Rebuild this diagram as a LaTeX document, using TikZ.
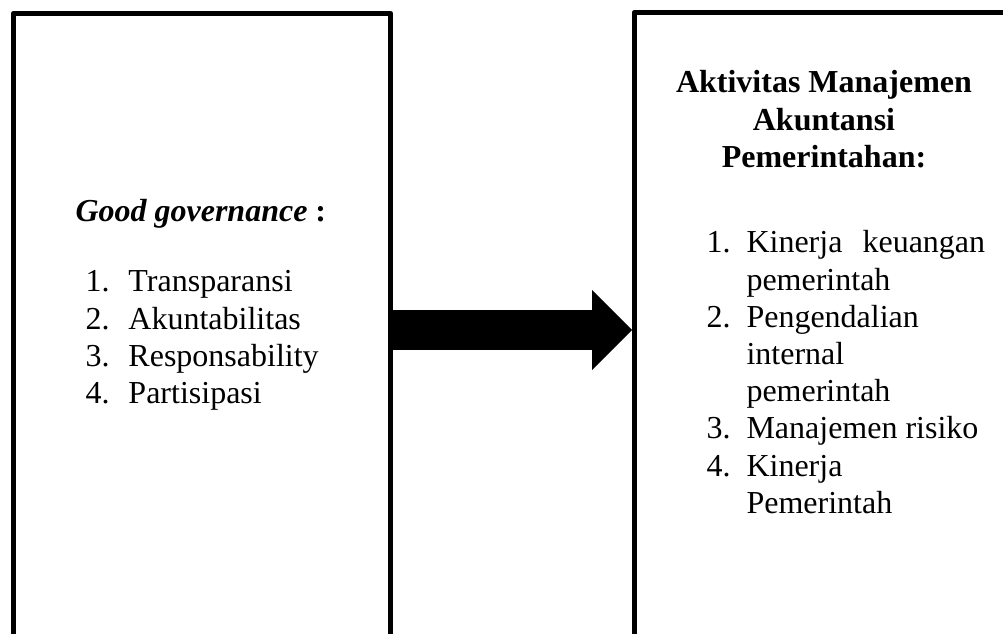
\documentclass[tikz,border=0pt]{standalone}
\usepackage{fontspec}
\setmainfont{Liberation Serif}
\usetikzlibrary{arrows.meta}

\tikzset{every picture/.style={line width=0.75pt}}
\tikzset{
  framebox/.style={draw, rectangle, line width=3.4pt, line join=round, inner sep=0pt},
  fatarrow/.style={line width=30pt, -{Triangle[length=30pt,width=60pt,line width=0pt]}},
  boxtext/.style={inner sep=0pt, font=\fontsize{24pt}{27.9pt}\selectfont},
}

\begin{document}
\begin{tikzpicture}[x=0.75pt,y=0.75pt,yscale=-1,xscale=1]
\useasboundingbox (0,0) rectangle (1003,634);

%Shape: Rectangle [id:govbox]
\node[framebox, minimum width=283.1pt, minimum height=475.1pt] (govbox) at (202,330) {};
%Shape: Rectangle [id:aktbox]
\node[framebox, minimum width=295.1pt, minimum height=476.6pt] (aktbox) at (831,330) {};
%Right Arrow [id:govtoakt]
\draw[fatarrow] (govbox.east) -- (aktbox.west);

% Text Node
\node[boxtext, anchor=base west] (govtitle) at (75,222) {\textbf{\textit{Good governance}} \textbf{:}};
% Text Node
\node[boxtext, anchor=base west] (govlist) at (85,292) {\begin{tabular}[t]{@{}p{32.25pt}@{}l@{}}
1. & Transparansi\\
2. & Akuntabilitas\\
3. & Responsability\\
4. & Partisipasi
\end{tabular}};
% Text Node
\node[boxtext, anchor=base, font=\fontsize{24pt}{28pt}\selectfont\bfseries] (akttitle) at (824,93) {\begin{tabular}[t]{@{}c@{}}
Aktivitas Manajemen\\
Akuntansi\\
Pemerintahan:
\end{tabular}};
% Text Node
\node[boxtext, anchor=base west] (aktlist) at (706,253) {\begin{tabular}[t]{@{}p{30pt}@{}l@{}}
1. & \makebox[179pt][s]{Kinerja keuangan}\\
   & pemerintah\\
2. & Pengendalian\\
   & internal\\
   & pemerintah\\
3. & Manajemen risiko\\
4. & Kinerja\\
   & Pemerintah
\end{tabular}};

\end{tikzpicture}
\end{document}
